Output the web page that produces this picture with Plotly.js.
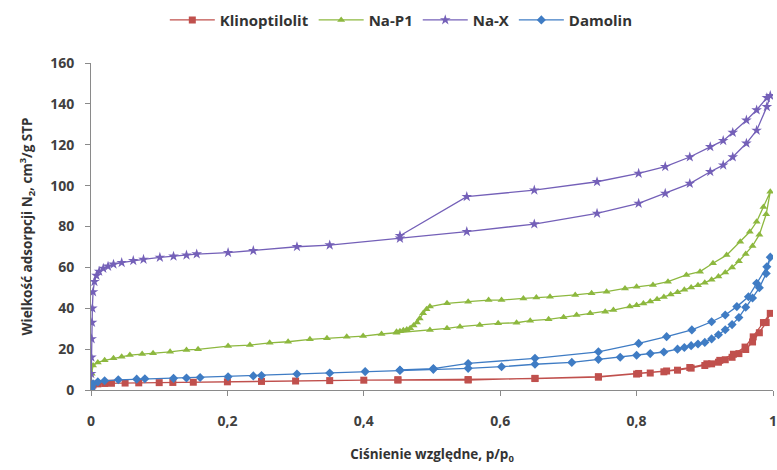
<!DOCTYPE html>
<html>
<head>
<meta charset="utf-8">
<script src="https://cdn.plot.ly/plotly-3.0.1.min.js"></script>
<style>html,body{margin:0;padding:0;background:#fff;}#chart{width:777px;height:470px;}</style>
</head>
<body>
<div id="chart"></div>
<script>
const seriesNames = ["Klinoptilolit", "Na-P1", "Na-X", "Damolin"];

const klinoX = [0, 0.001, 0.003, 0.01, 0.02, 0.03, 0.05, 0.07, 0.1, 0.12, 0.15, 0.2, 0.25, 0.3, 0.35, 0.4, 0.45, 0.553, 0.651, 0.744, 0.80, 0.82, 0.84, 0.86, 0.88, 0.90, 0.91, 0.92, 0.93, 0.94, 0.95, 0.96, 0.97, 0.98, 0.99, 0.996,
  0.986, 0.971, 0.959, 0.942, 0.922, 0.903, 0.878, 0.844, 0.803, 0.744, 0.651, 0.553, 0.45];
const klinoY = [0, 1.5, 2.5, 3, 3.2, 3.3, 3.4, 3.5, 3.6, 3.7, 3.8, 4, 4.2, 4.4, 4.6, 4.8, 4.9, 5.1, 5.6, 6.3, 7.8, 8.3, 8.9, 9.7, 10.7, 12, 12.8, 13.6, 14.8, 16, 17.8, 19.8, 23.5, 28, 33, 37.5,
  33, 26, 21, 17.5, 14.5, 12.8, 11, 9.3, 8.1, 6.5, 5.7, 4.9, 5];

const nap1X = [0, 0.001, 0.003, 0.01, 0.02, 0.033, 0.045, 0.057, 0.075, 0.091, 0.116, 0.140, 0.157, 0.201, 0.233, 0.262, 0.289, 0.321, 0.346, 0.375, 0.399, 0.426, 0.448, 0.497, 0.522, 0.541, 0.570, 0.597, 0.624, 0.644, 0.671, 0.693, 0.712, 0.732, 0.754, 0.766, 0.79, 0.80, 0.81, 0.82, 0.83, 0.84, 0.85, 0.86, 0.87, 0.88, 0.89, 0.90, 0.91, 0.92, 0.93, 0.94, 0.95, 0.96, 0.97, 0.98, 0.99, 0.996,
  0.986, 0.976, 0.966, 0.952, 0.932, 0.912, 0.893, 0.873, 0.846, 0.824, 0.800, 0.783, 0.756, 0.734, 0.710, 0.673, 0.653, 0.634, 0.602, 0.583, 0.553, 0.522, 0.497, 0.492, 0.487, 0.482, 0.478, 0.473, 0.468, 0.463, 0.458, 0.453, 0.448];
const nap1Y = [0, 8, 12, 13.5, 14.5, 15.5, 16.3, 17.1, 17.6, 18, 18.7, 19.6, 19.9, 21.5, 22, 23.1, 23.6, 24.8, 25.3, 26.1, 26.4, 27.4, 28, 29.4, 30.2, 31, 31.8, 32.6, 32.9, 33.9, 34.6, 35.6, 36.7, 37.5, 38.3, 39.1, 40.8, 41.5, 42.3, 43.3, 44.4, 45.5, 46.7, 47.8, 49, 50.2, 51.3, 52.5, 54, 55.5, 57.5, 60, 63, 66.5, 70.5, 76, 86, 97,
  89.5, 82.3, 77.4, 72.5, 66, 62, 57.9, 56.3, 53, 51.4, 50.5, 49.7, 48.1, 47.3, 46.5, 45.6, 45.3, 44.8, 44, 44, 43.2, 42.4, 40.8, 39.5, 37.5, 35, 33, 31.5, 30.2, 29.6, 29.2, 28.8, 28.5];

const naxX = [0, 0.0003, 0.0006, 0.001, 0.0015, 0.002, 0.003, 0.005, 0.008, 0.012, 0.018, 0.025, 0.033, 0.045, 0.062, 0.077, 0.101, 0.121, 0.140, 0.155, 0.201, 0.238, 0.302, 0.350, 0.453, 0.551, 0.650, 0.742, 0.803, 0.842, 0.878, 0.908, 0.927, 0.941, 0.961, 0.976, 0.991, 0.996,
  0.991, 0.976, 0.961, 0.941, 0.927, 0.908, 0.878, 0.842, 0.803, 0.742, 0.650, 0.551, 0.453];
const naxY = [0, 8, 16, 25, 33, 40, 48, 53, 56, 58, 59.5, 60.5, 61.5, 62.3, 63.3, 63.9, 64.9, 65.4, 66, 66.5, 67.2, 68.2, 70.1, 70.9, 74.2, 77.5, 81.2, 86.4, 91.3, 96.2, 101, 106.8, 110, 114, 120.7, 127, 138.6, 144,
  143, 137, 132, 126, 122, 119, 114, 109.3, 106, 101.9, 97.8, 94.6, 75.5];

const damX = [0, 0.001, 0.003, 0.01, 0.02, 0.04, 0.067, 0.079, 0.121, 0.140, 0.160, 0.201, 0.238, 0.250, 0.302, 0.350, 0.402, 0.453, 0.502, 0.553, 0.602, 0.651, 0.705, 0.744, 0.776, 0.80, 0.82, 0.84, 0.86, 0.87, 0.88, 0.89, 0.90, 0.91, 0.92, 0.93, 0.94, 0.95, 0.96, 0.97, 0.98, 0.99, 0.996,
  0.991, 0.976, 0.964, 0.947, 0.930, 0.910, 0.881, 0.844, 0.803, 0.744, 0.651, 0.553, 0.502, 0.453];
const damY = [0, 1.5, 3, 4, 4.5, 5, 5.3, 5.5, 5.7, 5.9, 6.1, 6.5, 6.9, 7.1, 7.8, 8.3, 9, 9.6, 10.1, 10.6, 11.4, 12.6, 13.5, 15, 16, 17, 17.8, 18.6, 20, 20.8, 21.7, 22.5, 23.3, 25, 27, 29.5, 32, 35.5, 40.5, 45, 50, 57, 65,
  60.3, 52.2, 45.6, 40.8, 36.7, 33.4, 29.4, 26.1, 22.8, 18.7, 15.5, 13, 10.5, 9.8];

const xTicks = [0, 0.2, 0.4, 0.6, 0.8, 1];
const xTickText = ["0", "0,2", "0,4", "0,6", "0,8", "1"];
const yTicks = [0, 20, 40, 60, 80, 100, 120, 140, 160];

const colors = ["#C0504D", "#8DB83F", "#7460B8", "#3F7CC4"];
const symbols = ["square", "triangle-up", "star", "diamond"];
const xs = [klinoX, nap1X, naxX, damX];
const ys = [klinoY, nap1Y, naxY, damY];

const traces = seriesNames.map((n, i) => ({
  type: "scatter", mode: "lines+markers", name: n,
  x: xs[i], y: ys[i],
  line: {color: colors[i], width: 1.3},
  marker: {symbol: symbols[i], color: colors[i], size: i === 2 ? 8 : 7}
}));

const fontFam = "'Open Sans', Lato, sans-serif";
const layout = {
  width: 777, height: 470,
  margin: {l: 91, r: 4, t: 63, b: 80},
  paper_bgcolor: "#fff", plot_bgcolor: "#fff",
  separators: ", ",
  font: {family: fontFam, color: "#404040", size: 13, weight: "bold"},
  showlegend: true,
  legend: {orientation: "h", x: 0.455, xanchor: "center", y: 1.131, yanchor: "middle",
    font: {family: fontFam, size: 15, color: "#333", weight: "bold"}, itemwidth: 45},
  xaxis: {range: [0, 1], tickvals: xTicks, ticktext: xTickText, ticklabeloverflow: "allow",
    showline: true, linecolor: "#8a8a8a", linewidth: 1, ticks: "outside", ticklen: 5, tickcolor: "#8a8a8a",
    showgrid: false, zeroline: false, ticklabelstandoff: 13,
    tickfont: {family: fontFam, size: 14, color: "#404040", weight: "bold"},
    title: {text: "Ciśnienie względne, p/p<sub>0</sub>", standoff: 20, font: {family: fontFam, size: 13.5, color: "#333", weight: "bold"}}},
  yaxis: {range: [0, 160], tickvals: yTicks,
    showline: true, linecolor: "#8a8a8a", linewidth: 1, ticks: "outside", ticklen: 5, tickcolor: "#8a8a8a",
    showgrid: false, zeroline: false, ticklabelstandoff: 8,
    tickfont: {family: fontFam, size: 14, color: "#404040", weight: "bold"},
    title: {text: "Wielkość adsorpcji N<sub>2</sub>, cm<sup>3</sup>/g STP", standoff: 14, font: {family: fontFam, size: 13.5, color: "#333", weight: "bold"}}}
};

Plotly.newPlot("chart", traces, layout, {displayModeBar: false, staticPlot: true});
</script>
</body>
</html>
